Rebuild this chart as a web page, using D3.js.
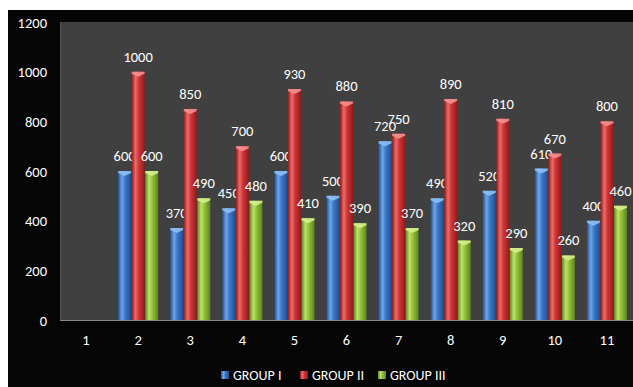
<!DOCTYPE html>
<html><head><meta charset="utf-8">
<script src="https://cdn.jsdelivr.net/npm/d3@7"></script>
<style>
html,body{margin:0;padding:0;background:#fff;}
svg{display:block;}
text{font-family:"Carlito","Lato","Open Sans",sans-serif;}
</style></head>
<body>
<svg id="c" width="633" height="387"></svg>
<script>
const categories = ["1","2","3","4","5","6","7","8","9","10","11"];
const seriesNames = ["GROUP I","GROUP II","GROUP III"];
const group1 = [null,600,370,450,600,500,720,490,520,610,400];
const group2 = [null,1000,850,700,930,880,750,890,810,670,800];
const group3 = [null,600,490,480,410,390,370,320,290,260,460];
const yTicks = [0,200,400,600,800,1000,1200];
const colors = [
  {base:"#3b78c9", light:"#6fa6ea", dark:"#22508f", cap:"#8cc0f5"},
  {base:"#cf3535", light:"#ee6b6b", dark:"#8f1c1c", cap:"#f39090"},
  {base:"#93c23a", light:"#bde36a", dark:"#5e8420", cap:"#d4ef8c"}
];
const series = [group1, group2, group3];

const svg = d3.select("#c");
const W = 633, H = 387;
svg.append("rect").attr("x",8).attr("y",10).attr("width",W-8).attr("height",H-10).attr("fill","#050505");

const plot = {l:60, r:633, t:22, b:320};
const x = d3.scaleBand().domain(categories).range([plot.l, plot.r]).paddingInner(0.22).paddingOuter(0.11);
const xs = d3.scaleBand().domain(seriesNames).range([0, x.bandwidth()]).padding(0);
const y = d3.scaleLinear().domain([0,1200]).range([plot.b, plot.t]);

svg.append("rect").attr("x",plot.l).attr("y",plot.t).attr("width",plot.r-plot.l).attr("height",plot.b-plot.t).attr("fill","#404040");
svg.append("line").attr("x1",plot.l).attr("x2",plot.r).attr("y1",plot.b+0.5).attr("y2",plot.b+0.5).attr("stroke","#8a8a8a").attr("stroke-width",1);
svg.append("line").attr("x1",plot.l+0.5).attr("x2",plot.l+0.5).attr("y1",plot.t).attr("y2",plot.b).attr("stroke","#555").attr("stroke-width",1);

const defs = svg.append("defs");
colors.forEach((c,i)=>{
  const g = defs.append("linearGradient").attr("id","g"+i).attr("x1","0").attr("x2","1").attr("y1","0").attr("y2","0");
  g.append("stop").attr("offset","0%").attr("stop-color",c.dark);
  g.append("stop").attr("offset","30%").attr("stop-color",c.light);
  g.append("stop").attr("offset","55%").attr("stop-color",c.base);
  g.append("stop").attr("offset","100%").attr("stop-color",c.dark);
});

const yAxis = d3.axisLeft(y).tickValues(yTicks).tickFormat(d3.format("d")).tickSize(0).tickPadding(0);
const ya = svg.append("g").attr("transform","translate(47,0)").call(yAxis);
ya.select(".domain").remove();
ya.selectAll("text").attr("fill","#ffffff").attr("font-size",14.5).attr("dy","0.35em");

const xAxis = d3.axisBottom(x).tickSize(0).tickPadding(0);
const xa = svg.append("g").attr("transform","translate(0,340)").call(xAxis);
xa.select(".domain").remove();
xa.selectAll("text").attr("fill","#ffffff").attr("font-size",14.5).attr("dy","0.35em");

series.forEach((vals,si)=>{
  const g = svg.append("g");
  const data = categories.map((c,i)=>({c, v:vals[i]})).filter(d=>d.v!=null);
  const bw = xs.bandwidth();
  g.selectAll("rect.bar").data(data).enter().append("rect")
    .attr("x",d=>x(d.c)+xs(seriesNames[si])+0.3)
    .attr("y",d=>y(d.v))
    .attr("width",bw-0.6)
    .attr("height",d=>y(0)-y(d.v))
    .attr("fill","url(#g"+si+")");
  g.selectAll("path.cap").data(data).enter().append("path")
    .attr("d",d=>{
      const x0 = x(d.c)+xs(seriesNames[si])+0.3, x1 = x0+bw-0.6, yt = y(d.v);
      const mx = (x0+x1)/2;
      return `M${x0},${yt}L${x1},${yt}L${x1},${yt+2}L${mx},${yt+5}L${x0},${yt+2}Z`;
    })
    .attr("fill",colors[si].cap).attr("opacity",0.9);
  g.selectAll("text.lbl").data(data).enter().append("text")
    .attr("x",d=>x(d.c)+xs(seriesNames[si])+bw/2)
    .attr("y",d=>y(d.v)-10)
    .attr("text-anchor","middle")
    .attr("fill","#ffffff").attr("font-size",14.5)
    .text(d=>d.v);
});

const legendX = [221, 300, 378];
const lg = svg.append("g");
seriesNames.forEach((n,i)=>{
  lg.append("rect").attr("x",legendX[i]).attr("y",371).attr("width",8).attr("height",8).attr("fill","url(#g"+i+")");
  lg.append("text").attr("x",legendX[i]+12).attr("y",375).attr("dy","0.35em").attr("fill","#ffffff").attr("font-size",14).text(n);
});
</script>
</body></html>
